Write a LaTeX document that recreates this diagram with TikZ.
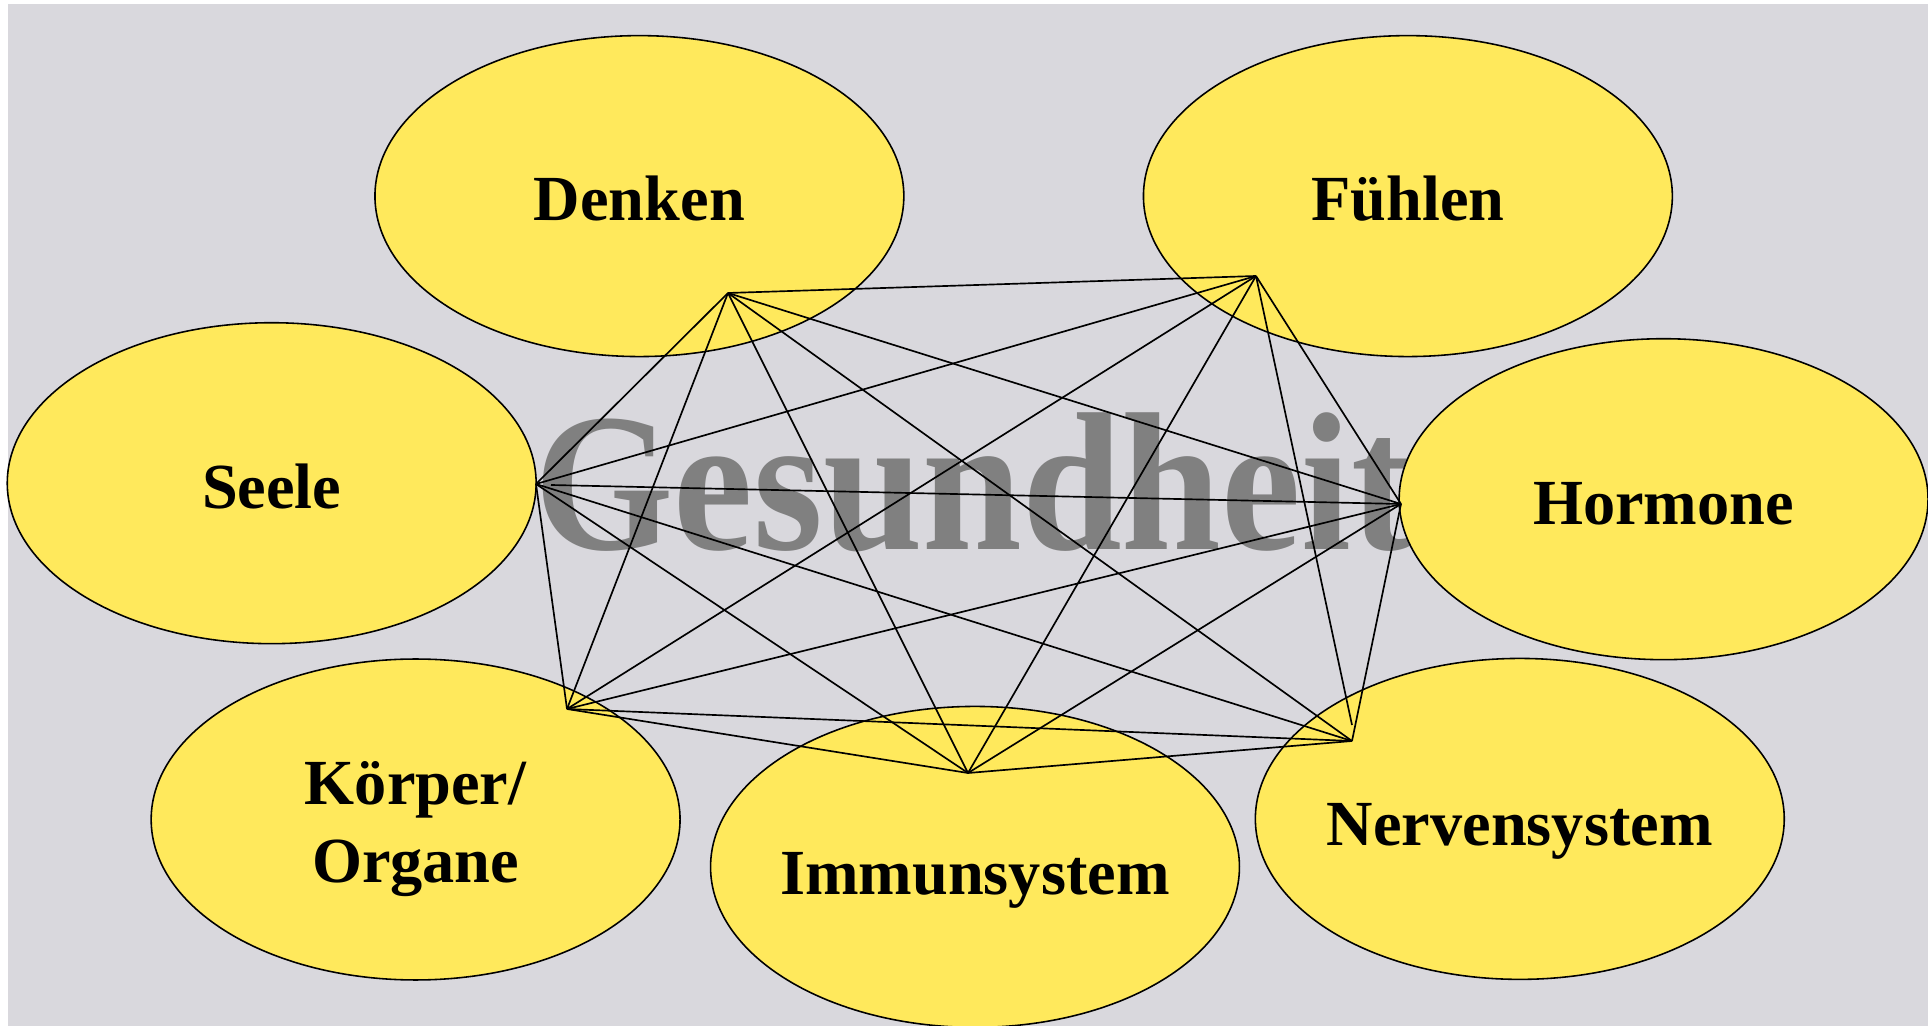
\documentclass[tikz,border=0pt]{standalone}
\usepackage{fontspec}
\setmainfont{Liberation Serif}
\usetikzlibrary{shapes.geometric}
\definecolor{backdrop}{RGB}{217,216,221}
\definecolor{petal}{RGB}{255,233,92}
\definecolor{midgray}{RGB}{128,128,128}
\begin{document}
\begin{tikzpicture}[x=0.02cm,y=-0.02cm,
  blob/.style={ellipse, draw=black, line width=0.9pt, fill=petal,
    minimum width=10.58cm, minimum height=6.42cm, inner sep=0pt},
  lbl/.style={anchor=base, inner sep=0pt, align=center,
    font=\fontsize{36.6}{44}\selectfont\bfseries},
  wire/.style={draw=black, line width=0.95pt, line join=miter}]
  \useasboundingbox (0,0) rectangle (1928,1026);
  \fill[backdrop] (8,4) rectangle (1928,1026);

  % large watermark word behind everything
  \node[anchor=base west, inner sep=0pt, text=midgray,
    font=\fontsize{102}{102}\selectfont\bfseries] (title) at (534,550)
    {\scalebox{1}[1.1]{Gesundheit}};

  % the seven ellipses
  \node[blob] (denken) at (639.4,196.1) {};
  \node[blob] (fuehlen) at (1407.9,196.1) {};
  \node[blob] (seele) at (271.7,483.2) {};
  \node[blob] (hormone) at (1663.6,499.2) {};
  \node[blob] (koerper) at (415.6,819.5) {};
  \node[blob] (immun) at (975,866.9) {};
  \node[blob] (nerven) at (1519.8,818.9) {};

  % meeting points of the web of lines
  \coordinate (d) at (728,293);
  \coordinate (f) at (1256,276);
  \coordinate (s) at (536,484);
  \coordinate (s2) at (551,485);
  \coordinate (h) at (1401,504);
  \coordinate (k) at (567,709);
  \coordinate (i) at (968,773);
  \coordinate (n) at (1352,741);
  \coordinate (n2) at (1352,725);

  % every pair connected
  \draw[wire] (d) -- (f);
  \draw[wire] (d) -- (s);
  \draw[wire] (d) -- (h);
  \draw[wire] (d) -- (k);
  \draw[wire] (d) -- (i);
  \draw[wire] (d) -- (n);
  \draw[wire] (f) -- (s);
  \draw[wire] (f) -- (h);
  \draw[wire] (f) -- (k);
  \draw[wire] (f) -- (i);
  \draw[wire] (f) -- (n2);
  \draw[wire] (s2) -- (h);
  \draw[wire] (s) -- (k);
  \draw[wire] (s) -- (i);
  \draw[wire] (s) -- (n);
  \draw[wire] (h) -- (k);
  \draw[wire] (h) -- (i);
  \draw[wire] (h) -- (n);
  \draw[wire] (k) -- (i);
  \draw[wire] (k) -- (n);
  \draw[wire] (i) -- (n);

  % labels
  \node[lbl] (tdenken) at (639.4,221) {Denken};
  \node[lbl] (tfuehlen) at (1407.9,221) {Fühlen};
  \node[lbl] (tseele) at (271.7,509) {Seele};
  \node[lbl] (thormone) at (1663.6,525) {Hormone};
  \node[lbl] (tkoerper) at (415.6,805) {Körper/};
  \node[lbl] (torgane) at (415.6,883) {Organe};
  \node[lbl] (timmun) at (975,894) {Immunsystem};
  \node[lbl] (tnerven) at (1519.8,846) {Nervensystem};
\end{tikzpicture}
\end{document}
